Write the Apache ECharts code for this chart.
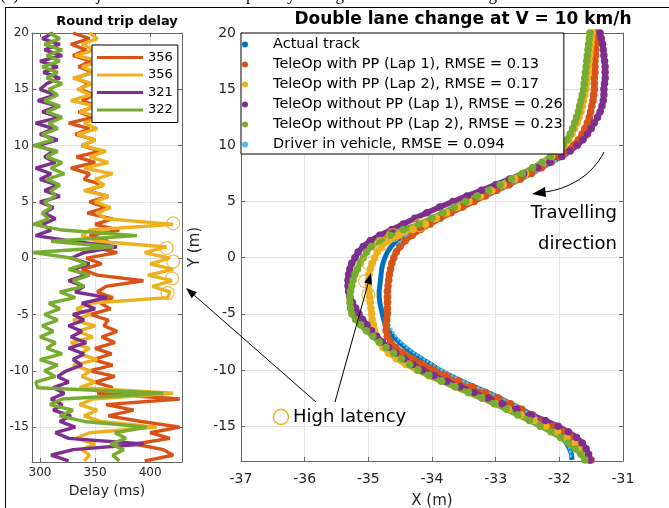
<!DOCTYPE html>
<html>
<head>
<meta charset="utf-8">
<script src="https://cdn.jsdelivr.net/npm/echarts@6/dist/echarts.min.js"></script>
<style>
html, body { margin: 0; padding: 0; background: #fff; }
#chart { width: 669px; height: 508px; }
</style>
</head>
<body>
<div id="chart"></div>
<script>
// position along the track (m), used by both panels
var posY = [20, 19.5, 19, 18.5, 18, 17.5, 17, 16.5, 16, 15.5,
    15, 14.5, 14, 13.5, 13, 12.5, 12, 11.5, 11, 10.5,
    10, 9.5, 9, 8.5, 8, 7.5, 7, 6.5, 6, 5.5,
    5, 4.5, 4, 3.5, 3, 2.5, 2, 1.5, 1, 0.5,
    0, -0.5, -1, -1.5, -2, -2.5, -3, -3.5, -4, -4.5,
    -5, -5.5, -6, -6.5, -7, -7.5, -8, -8.5, -9, -9.5,
    -10, -10.5, -11, -11.5, -12, -12.5, -13, -13.5, -14, -14.5,
    -15, -15.5, -16, -16.5, -17, -17.5, -18];

// round trip delay (ms) at each position
var delay356a = [330, 345, 328, 342, 330, 346, 335, 348, 332, 344,
    336, 350, 338, 352, 335, 348, 326, 345, 332, 350,
    338, 355, 333, 350, 328, 345, 340, 358, 342, 362,
    345, 360, 343, 366, 350, 372, 345, 362, 348, 370,
    342, 356, 338, 352, 394, 360, 352, 366, 355, 364,
    346, 362, 358, 370, 356, 368, 350, 365, 348, 366,
    345, 368, 350, 366, 352, 427, 360, 385, 362, 392,
    427, 400, 418, 386, 412, 421, 395];
var delay356b = [345, 352, 338, 350, 332, 355, 338, 350, 330, 348,
    334, 346, 328, 350, 336, 355, 340, 352, 334, 350,
    338, 360, 345, 362, 340, 366, 350, 358, 340, 362,
    350, 364, 352, 360, 421, 345, 338, 352, 415, 395,
    418, 400, 421, 398, 420, 402, 418, 416, 345, 333,
    346, 330, 350, 334, 348, 328, 345, 336, 352, 330,
    346, 338, 350, 336, 421, 348, 336, 352, 340, 355,
    406, 345, 333, 350, 338, 345, 340];
var delay321 = [312, 302, 318, 304, 320, 300, 316, 303, 318, 306,
    300, 314, 298, 316, 302, 318, 296, 312, 300, 316,
    298, 312, 304, 314, 296, 310, 300, 316, 304, 318,
    300, 312, 304, 314, 302, 310, 296, 330, 370, 340,
    328, 345, 330, 342, 326, 340, 332, 361, 338, 350,
    330, 340, 326, 338, 328, 342, 326, 340, 330, 338,
    324, 316, 326, 312, 322, 310, 320, 312, 328, 318,
    332, 314, 326, 394, 330, 310, 326];
var delay322 = [308, 318, 304, 320, 306, 318, 302, 316, 306, 320,
    308, 316, 304, 318, 306, 320, 308, 316, 302, 312,
    294, 316, 306, 320, 310, 322, 306, 318, 310, 314,
    304, 310, 302, 308, 294, 320, 388, 310, 367, 294,
    330, 342, 326, 345, 330, 340, 318, 332, 308, 318,
    304, 316, 302, 312, 300, 314, 306, 320, 300, 316,
    304, 314, 296, 298, 412, 320, 309, 330, 318, 340,
    397, 368, 378, 364, 376, 366, 372];
var delayLabels = ['356', '356', '321', '322'];

// X position (m) of each run at the same positions
var trackActual = [-31.44, -31.44, -31.44, -31.44, -31.44, -31.44, -31.45, -31.45, -31.45, -31.46,
    -31.46, -31.47, -31.48, -31.49, -31.5, -31.52, -31.54, -31.57, -31.61, -31.66,
    -31.73, -31.84, -31.98, -32.12, -32.28, -32.45, -32.63, -32.82, -33.02, -33.22,
    -33.42, -33.61, -33.8, -33.98, -34.16, -34.32, -34.45, -34.56, -34.64, -34.7,
    -34.74, -34.77, -34.79, -34.8, -34.81, -34.82, -34.83, -34.83, -34.82, -34.8,
    -34.78, -34.76, -34.73, -34.68, -34.61, -34.52, -34.42, -34.3, -34.16, -34.02,
    -33.88, -33.71, -33.53, -33.33, -33.12, -32.93, -32.77, -32.6, -32.45, -32.3,
    -32.15, -32.05, -31.96, -31.89, -31.84, -31.81, -31.8];
var trackPP1 = [-31.42, -31.42, -31.43, -31.43, -31.43, -31.44, -31.44, -31.44, -31.45, -31.45,
    -31.45, -31.46, -31.47, -31.49, -31.51, -31.53, -31.56, -31.6, -31.64, -31.7,
    -31.78, -31.88, -32.0, -32.13, -32.28, -32.44, -32.61, -32.79, -32.98, -33.16,
    -33.34, -33.52, -33.7, -33.87, -34.03, -34.18, -34.31, -34.42, -34.5, -34.56,
    -34.6, -34.63, -34.65, -34.67, -34.68, -34.69, -34.7, -34.7, -34.7, -34.7,
    -34.7, -34.71, -34.72, -34.72, -34.7, -34.65, -34.57, -34.45, -34.3, -34.14,
    -33.97, -33.78, -33.58, -33.37, -33.16, -32.96, -32.77, -32.59, -32.42, -32.26,
    -32.1, -31.94, -31.8, -31.7, -31.61, -31.55, -31.5];
var trackPP2 = [-31.48, -31.49, -31.5, -31.51, -31.52, -31.53, -31.54, -31.55, -31.56, -31.57,
    -31.58, -31.6, -31.62, -31.64, -31.66, -31.69, -31.72, -31.76, -31.8, -31.85,
    -31.92, -32.02, -32.12, -32.24, -32.38, -32.53, -32.7, -32.88, -33.06, -33.24,
    -33.42, -33.6, -33.77, -33.93, -34.1, -34.3, -34.52, -34.68, -34.8, -34.86,
    -34.9, -34.94, -34.97, -34.99, -35.0, -35.0, -34.99, -34.98, -34.97, -34.96,
    -34.95, -34.94, -34.92, -34.9, -34.87, -34.83, -34.77, -34.68, -34.56, -34.41,
    -34.24, -34.04, -33.84, -33.63, -33.42, -33.21, -33.0, -32.8, -32.6, -32.4,
    -32.21, -32.03, -31.88, -31.76, -31.66, -31.59, -31.55];
var trackNoPP1 = [-31.36, -31.34, -31.32, -31.31, -31.3, -31.29, -31.28, -31.28, -31.28, -31.29,
    -31.3, -31.3, -31.31, -31.33, -31.36, -31.4, -31.45, -31.5, -31.56, -31.63,
    -31.72, -31.83, -31.96, -32.15, -32.34, -32.56, -32.78, -33.0, -33.22, -33.45,
    -33.67, -33.88, -34.08, -34.27, -34.45, -34.63, -34.82, -34.97, -35.08, -35.16,
    -35.21, -35.26, -35.29, -35.31, -35.32, -35.32, -35.31, -35.29, -35.25, -35.2,
    -35.15, -35.09, -35.02, -34.95, -34.87, -34.78, -34.68, -34.57, -34.44, -34.3,
    -34.15, -33.97, -33.77, -33.56, -33.34, -33.12, -32.9, -32.67, -32.44, -32.22,
    -32.02, -31.86, -31.73, -31.64, -31.58, -31.54, -31.52];
var trackNoPP2 = [-31.52, -31.53, -31.54, -31.55, -31.56, -31.57, -31.58, -31.59, -31.6, -31.61,
    -31.62, -31.64, -31.66, -31.68, -31.7, -31.73, -31.76, -31.79, -31.83, -31.88,
    -31.94, -32.03, -32.14, -32.27, -32.42, -32.58, -32.75, -32.93, -33.11, -33.29,
    -33.47, -33.65, -33.83, -34.0, -34.2, -34.45, -34.66, -34.83, -34.95, -35.03,
    -35.08, -35.13, -35.17, -35.21, -35.24, -35.26, -35.28, -35.29, -35.29, -35.28,
    -35.26, -35.2, -35.12, -35.03, -34.93, -34.83, -34.72, -34.6, -34.48, -34.35,
    -34.22, -34.05, -33.85, -33.64, -33.43, -33.22, -33.02, -32.83, -32.65, -32.47,
    -32.3, -32.13, -31.98, -31.86, -31.75, -31.66, -31.6];
var trackDriver = [-31.42, -31.42, -31.42, -31.42, -31.42, -31.42, -31.42, -31.42, -31.42, -31.42,
    -31.42, -31.43, -31.44, -31.45, -31.47, -31.49, -31.52, -31.55, -31.59, -31.65,
    -31.72, -31.83, -31.95, -32.08, -32.23, -32.4, -32.58, -32.77, -32.97, -33.17,
    -33.37, -33.56, -33.75, -33.93, -34.1, -34.26, -34.39, -34.49, -34.56, -34.6,
    -34.63, -34.66, -34.68, -34.7, -34.71, -34.72, -34.72, -34.72, -34.72, -34.71,
    -34.7, -34.69, -34.67, -34.63, -34.57, -34.49, -34.39, -34.27, -34.13, -33.99,
    -33.84, -33.68, -33.5, -33.3, -33.1, -32.91, -32.74, -32.58, -32.43, -32.28,
    -32.15, -32.04, -31.95, -31.88, -31.84, -31.82, -31.82];
var trackNames = ['Actual track', 'TeleOp with PP (Lap 1), RMSE = 0.13', 'TeleOp with PP (Lap 2), RMSE = 0.17',
    'TeleOp without PP (Lap 1), RMSE = 0.26', 'TeleOp without PP (Lap 2), RMSE = 0.23', 'Driver in vehicle, RMSE = 0.094'];

// high latency moments
var latDelay = [421, 415, 421, 420, 416];
var latDelayY = [3.1, 0.9, -0.3, -1.8, -3.1];
var latX = [-34.19, -34.61, -34.79, -35.0, -35.05, -35.0];
var latY = [2.9, 2.0, 1.2, -0.5, -2.1, -3.3];

// tick labels
var delayTicks = [300, 350, 400];
var yTicks = [-15, -10, -5, 0, 5, 10, 15, 20];

var colors = ['#0072BD', '#D95319', '#EDB120', '#7E2F8E', '#77AC30', '#4DBEEE'];
var delayColors = ['#D95319', '#EDB120', '#7E2F8E', '#77AC30'];
var FONT = 'DejaVu Sans';
var axisGray = '#666666';
var gridGray = '#e4e4e4';
var labelGray = '#262626';

function pairs(xs, ys) {
    return xs.map(function(v, i) { return [v, ys[i]]; });
}

// axis with MATLAB style inward ticks, used for all four sides of each box
function boxAxis(grid, pos, min, max, ticks, opts) {
    var a = {
        gridIndex: grid, type: 'value', position: pos, min: min, max: max,
        axisLine: { onZero: false, lineStyle: { color: axisGray, width: 1 } },
        axisTick: { inside: true, length: 4, lineStyle: { color: axisGray } },
        axisLabel: { show: false },
        splitLine: { show: false }
    };
    if (ticks) {
        a.axisTick.customValues = ticks;
    } else {
        a.interval = 1;
    }
    return Object.assign(a, opts || {});
}

function arrow(x1, y1, x2, y2) {
    var dx = x2 - x1, dy = y2 - y1, L = Math.sqrt(dx * dx + dy * dy);
    var ux = dx / L, uy = dy / L, hl = 11, hw = 4;
    var bx = x2 - ux * hl, by = y2 - uy * hl;
    return [
        { type: 'line', z: 100, shape: { x1: x1, y1: y1, x2: bx, y2: by }, style: { stroke: '#000', lineWidth: 1 } },
        { type: 'polygon', z: 100, shape: { points: [[x2, y2], [bx - uy * hw, by + ux * hw], [bx + uy * hw, by - ux * hw]] }, style: { fill: '#000' } }
    ];
}

var chart = echarts.init(document.getElementById('chart'));

var series = [];
[delay356a, delay356b, delay321, delay322].forEach(function(d, i) {
    series.push({
        name: 'delay-' + i, type: 'line', xAxisIndex: 0, yAxisIndex: 0,
        data: pairs(d, posY), showSymbol: false, color: delayColors[i],
        lineStyle: { width: 3.4, color: delayColors[i] }
    });
});
series.push({
    name: 'latency-left', type: 'scatter', xAxisIndex: 0, yAxisIndex: 0,
    data: pairs(latDelay, latDelayY), symbolSize: 13,
    itemStyle: { color: 'rgba(0,0,0,0)', borderColor: '#EDB120', borderWidth: 1.3 }, z: 5
});

var tracks = [trackActual, trackPP1, trackPP2, trackNoPP1, trackNoPP2, trackDriver];
tracks.forEach(function(t, i) {
    var s = {
        name: trackNames[i], type: 'line', xAxisIndex: 2, yAxisIndex: 2,
        data: pairs(t, posY), color: colors[i], symbol: 'circle'
    };
    if (i === 0) {
        s.showSymbol = false;
        s.lineStyle = { width: 5, color: colors[i] };
    } else if (i === 5) {
        s.showSymbol = false;
        s.lineStyle = { width: 3, color: colors[i], type: [0.1, 4], cap: 'round' };
    } else {
        s.showSymbol = true;
        s.symbolSize = 7.5;
        s.itemStyle = { color: colors[i] };
        s.lineStyle = { width: 5.5, color: colors[i] };
    }
    series.push(s);
});
series.push({
    name: 'latency-right', type: 'scatter', xAxisIndex: 2, yAxisIndex: 2,
    data: pairs(latX, latY), symbolSize: 13,
    itemStyle: { color: 'rgba(0,0,0,0)', borderColor: '#EDB120', borderWidth: 1.3 }, z: 5
});

var graphics = [
    { type: 'text', left: 0, top: -13, z: 100, style: { text: '(c) Vehicle trajectories and round trip delay during the double lane change test', font: '17px "Liberation Serif"', fill: '#000' } },
    { type: 'line', z: 100, shape: { x1: 5, y1: 7.5, x2: 669, y2: 7.5 }, style: { stroke: '#000', lineWidth: 1 } },
    { type: 'line', z: 100, shape: { x1: 5.5, y1: 7, x2: 5.5, y2: 508 }, style: { stroke: '#000', lineWidth: 1 } },
    { type: 'text', x: 117, y: 22, z: 100, style: { text: 'Round trip delay', font: 'bold 13px "DejaVu Sans"', fill: '#000', align: 'center', verticalAlign: 'middle' } },
    { type: 'text', x: 463, y: 20, z: 100, style: { text: 'Double lane change at V = 10 km/h', font: 'bold 17px "DejaVu Sans"', fill: '#000', align: 'center', verticalAlign: 'middle' } },
    { type: 'text', x: 617, y: 213, z: 100, style: { text: 'Travelling', font: '18px "DejaVu Sans"', fill: '#000', align: 'right', verticalAlign: 'middle' } },
    { type: 'text', x: 617, y: 244, z: 100, style: { text: 'direction', font: '18px "DejaVu Sans"', fill: '#000', align: 'right', verticalAlign: 'middle' } },
    { type: 'bezierCurve', z: 100, shape: { x1: 604, y1: 152, cpx1: 592, cpy1: 176, cpx2: 568, cpy2: 189, x2: 545, y2: 192 }, style: { stroke: '#000', lineWidth: 1, fill: null } },
    { type: 'polygon', z: 100, shape: { points: [[532, 194], [545, 187], [546, 197]] }, style: { fill: '#000' } },
    { type: 'circle', z: 100, shape: { cx: 281, cy: 417, r: 7.5 }, style: { stroke: '#EDB120', lineWidth: 1.4, fill: null } },
    { type: 'text', x: 293, y: 417, z: 100, style: { text: 'High latency', font: '18px "DejaVu Sans"', fill: '#000', align: 'left', verticalAlign: 'middle' } }
].concat(arrow(316, 402, 186, 288)).concat(arrow(335, 402, 371, 273));

var option = {
    animation: false,
    backgroundColor: '#fff',
    textStyle: { fontFamily: FONT },
    grid: [
        { left: 32, top: 33, width: 150, height: 429, show: false, outerBoundsMode: 'none', containLabel: false },
        { left: 241, top: 33, width: 382, height: 428, show: false, outerBoundsMode: 'none', containLabel: false }
    ],
    xAxis: [
        boxAxis(0, 'bottom', 292.7, 429, delayTicks, {
            name: 'Delay (ms)', nameLocation: 'middle', nameGap: 20,
            nameTextStyle: { fontSize: 14, color: labelGray, fontFamily: FONT },
            axisLabel: { show: true, customValues: delayTicks, fontSize: 12, color: labelGray, margin: 5, fontFamily: FONT },
            splitLine: { show: true, lineStyle: { color: gridGray } }
        }),
        boxAxis(0, 'top', 292.7, 429, delayTicks),
        boxAxis(1, 'bottom', -37, -31, null, {
            name: 'X (m)', nameLocation: 'middle', nameGap: 33,
            nameTextStyle: { fontSize: 15, color: labelGray, fontFamily: FONT },
            axisLabel: { show: true, fontSize: 14, color: labelGray, margin: 11, fontFamily: FONT },
            splitLine: { show: true, lineStyle: { color: gridGray } }
        }),
        boxAxis(1, 'top', -37, -31, null)
    ],
    yAxis: [
        boxAxis(0, 'left', -18.1, 20, yTicks, {
            axisLabel: { show: true, customValues: yTicks, fontSize: 12, color: labelGray, margin: 3, fontFamily: FONT },
            splitLine: { show: true, lineStyle: { color: gridGray } }
        }),
        boxAxis(0, 'right', -18.1, 20, yTicks),
        boxAxis(1, 'left', -18.1, 20, yTicks, {
            name: 'Y (m)', nameLocation: 'middle', nameGap: 36,
            nameTextStyle: { fontSize: 15, color: labelGray, fontFamily: FONT },
            axisLabel: { show: true, customValues: yTicks, fontSize: 14, color: labelGray, margin: 5, fontFamily: FONT },
            splitLine: { show: true, lineStyle: { color: gridGray } }
        }),
        boxAxis(1, 'right', -18.1, 20, yTicks)
    ],
    legend: [
        {
            data: ['delay-0', 'delay-1', 'delay-2', 'delay-3'],
            orient: 'vertical', left: 92, top: 45,
            padding: [5, 5, 5, 5], itemGap: 2.5,
            itemWidth: 46, itemHeight: 3, icon: 'rect',
            backgroundColor: '#fff', borderColor: '#000', borderWidth: 1,
            selectedMode: false, z: 20,
            formatter: function(n) { return delayLabels[+n.split('-')[1]]; },
            textStyle: { fontSize: 13, lineHeight: 15, color: '#000', fontFamily: FONT }
        },
        {
            data: trackNames,
            orient: 'vertical', left: 241, top: 33,
            padding: [4, 1, 2, 1], itemGap: 5,
            itemWidth: 6, itemHeight: 6, icon: 'circle',
            backgroundColor: '#fff', borderColor: '#000', borderWidth: 1,
            selectedMode: false, z: 20,
            formatter: function(n) { return '{g| }' + n; },
            textStyle: {
                fontSize: 14.5, lineHeight: 15, color: '#000', fontFamily: FONT,
                rich: { g: { width: 20 } }
            }
        }
    ],
    series: series,
    graphic: graphics
};

chart.setOption(option);
</script>
</body>
</html>
